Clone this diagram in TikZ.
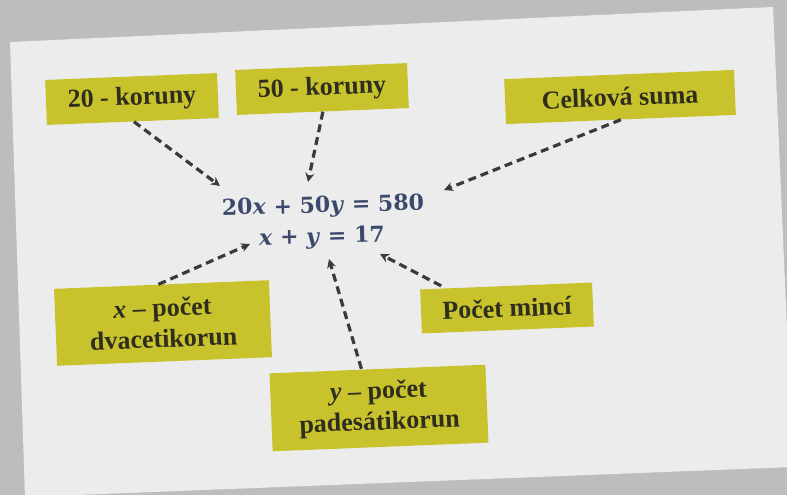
\documentclass[tikz,border=0pt]{standalone}
\usepackage{fontspec}
\setmainfont{Liberation Serif}
\newfontfamily\boxfont{Liberation Serif}
\newfontfamily\eqfont{DejaVu Serif}
\usetikzlibrary{arrows.meta,calc}
\definecolor{bgc}{HTML}{BDBDBD}
\definecolor{slidec}{HTML}{ECECEC}
\definecolor{boxc}{HTML}{C8C22C}
\definecolor{boxtxt}{HTML}{2E2E1E}
\definecolor{arrc}{HTML}{3A3A3A}
\definecolor{eqc}{HTML}{3B4A6C}
\tikzset{
  lbox/.style={fill=boxc, text=boxtxt, rotate=2.3, inner sep=0pt, align=center,
    font=\boxfont\bfseries\fontsize{26}{31}\selectfont},
  eqtext/.style={text=eqc, rotate=1.5, inner sep=1pt, font=\eqfont\bfseries\fontsize{22}{28}\selectfont},
  darr/.style={draw=arrc, line width=3.2pt, dash pattern=on 8pt off 5pt,
    -{Stealth[length=9pt,width=9pt]}}
}
\begin{document}
\begin{tikzpicture}[x=1pt,y=-1pt]
\useasboundingbox (0,0) rectangle (787,495);
\fill[bgc] (0,0) rectangle (787,495);
\fill[slidec] (10,42) -- (773,7) -- (793,467) -- (25,497) -- cycle;

\node[lbox, minimum width=172pt, minimum height=45pt] (b20) at (132,99) {20 - koruny};
\node[lbox, minimum width=172pt, minimum height=45pt] (b50) at (322,89) {50 - koruny};
\node[lbox, minimum width=230pt, minimum height=45pt] (bcel) at (620,97) {Celková suma};
\node[lbox, minimum width=215pt, minimum height=77pt] (bx) at (163,323) {\textit{x} – počet\\dvacetikorun};
\node[lbox, minimum width=172pt, minimum height=44pt] (bmin) at (507,308) {Počet mincí};
\node[lbox, minimum width=216pt, minimum height=78pt] (by) at (379,408) {\textit{y} – počet\\padesátikorun};

\node[eqtext] (eq1) at (323,207) {20\textit{x} + 50\textit{y} = 580};
\node[eqtext] (eq2) at (322,238) {\textit{x} + \textit{y} = 17};

\coordinate (t1) at (220,186);
\coordinate (t2) at (308,182);
\coordinate (t3) at (444,190);
\coordinate (t4) at (250,244);
\coordinate (t5) at (329,259);
\coordinate (t6) at (380,254);

\draw[darr] ([xshift=1pt]b20.south) -- (t1);
\draw[darr] (b50.south) -- (t2);
\draw[darr] (bcel.south) -- (t3);
\draw[darr] ([xshift=-3pt]bx.north) -- (t4);
\draw[darr] ([xshift=-16pt]by.north) -- (t5);
\draw[darr] ([xshift=-65pt]bmin.north) -- (t6);
\end{tikzpicture}
\end{document}
